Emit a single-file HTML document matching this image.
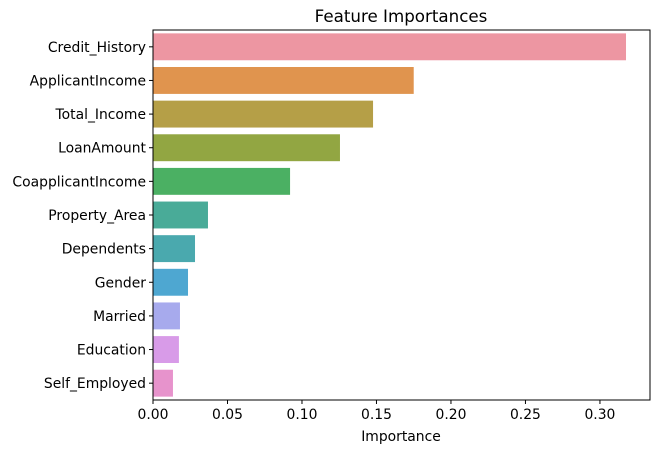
<!DOCTYPE html>
<html><head><meta charset="utf-8"><style>
body{margin:0;background:#fff;font-family:"Liberation Sans","DejaVu Sans",sans-serif;}
svg text{font-family:"DejaVu Sans","Liberation Sans",sans-serif;font-size:13.9px;fill:#000}
</style></head><body>
<svg id="chart" width="659" height="453">
<text x="401" y="22" text-anchor="middle" style="font-size:16.7px">Feature Importances</text>
<g id="bars"></g><g id="yt"></g><g id="xt"></g>
<rect x="153" y="30" width="497" height="370" fill="none" stroke="#000" stroke-width="1"/>
<text x="401" y="441" text-anchor="middle">Importance</text>
</svg>
<script>
const categories=["Credit_History","ApplicantIncome","Total_Income","LoanAmount","CoapplicantIncome","Property_Area","Dependents","Gender","Married","Education","Self_Employed"];
const values=[0.3175,0.175,0.1477,0.1255,0.092,0.0369,0.0282,0.0235,0.0181,0.0174,0.0134];
const colors=["#ed96a2","#e0944e","#b59f47","#92a642","#4bb063","#49ab98","#4aa9ae","#4ea7d1","#a7aaed","#d89be8","#e793cc"];
const xTicks=[0,0.05,0.10,0.15,0.20,0.25,0.30];
const xTickLabels=["0.00","0.05","0.10","0.15","0.20","0.25","0.30"];
const NS="http://www.w3.org/2000/svg";
const L=153,R=650,T=30,B=400,xMax=0.3336;
const x=v=>L+v/xMax*(R-L);
const band=(B-T)/categories.length;
const y=i=>T+i*band;
function mk(t,a,p){const e=document.createElementNS(NS,t);for(const k in a)e.setAttribute(k,a[k]);document.getElementById(p).appendChild(e);return e;}
categories.forEach((c,i)=>{
 const r=mk("rect",{x:L,y:y(i)+band*0.1,width:x(values[i])-L,height:band*0.8,fill:colors[i]},"bars");
 
 
 const cy=y(i)+band/2;
 mk("line",{x1:L-4,x2:L,y1:cy,y2:cy,stroke:"#000"},"yt");
 const t=mk("text",{x:L-7,y:cy+5,"text-anchor":"end"},"yt");t.textContent=c;
 
 
});
xTicks.forEach((v,i)=>{
 const px=x(v);
 mk("line",{x1:px,x2:px,y1:B,y2:B+4,stroke:"#000"},"xt");
 const t=mk("text",{x:px,y:B+19,"text-anchor":"middle"},"xt");t.textContent=xTickLabels[i];
 
 
});
</script>
</body></html>
